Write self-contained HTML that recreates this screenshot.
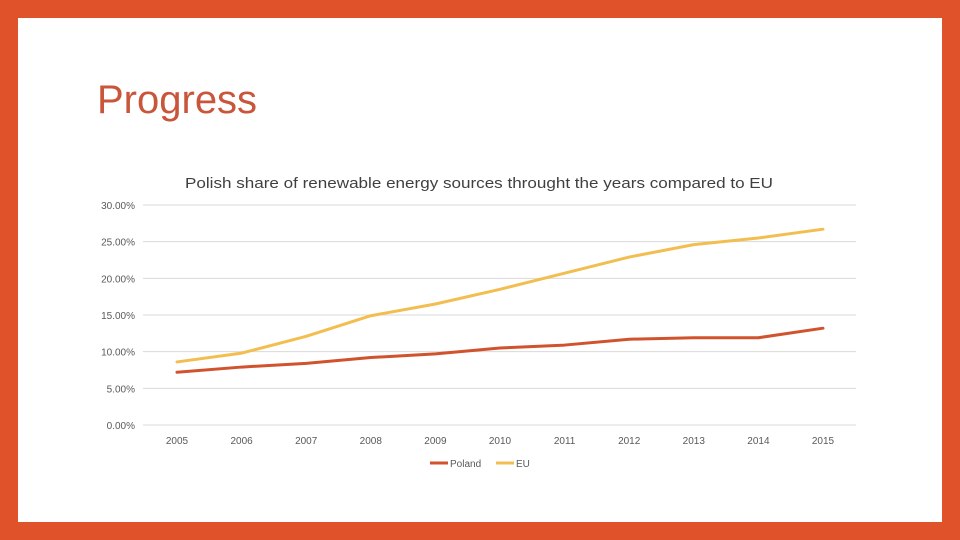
<!DOCTYPE html>
<html><head><meta charset="utf-8"><style>
body{margin:0;width:960px;height:540px;background:#E0522A;position:relative;overflow:hidden;font-family:"Liberation Sans",sans-serif}
#card{position:absolute;left:18px;top:18px;width:924px;height:504px;background:#fff}
#title{position:absolute;left:97px;top:78px;font-size:40px;color:#C9553A;margin:0;font-weight:normal}
svg{position:absolute;left:0;top:0}
</style></head><body>
<div id="card"></div>
<h1 id="title">Progress</h1>
<svg id="chart" width="960" height="540"></svg>
<script>
const years=["2005","2006","2007","2008","2009","2010","2011","2012","2013","2014","2015"];
const poland=[7.2,7.9,8.4,9.2,9.7,10.5,10.9,11.7,11.9,11.9,13.2];
const eu=[8.6,9.8,12.1,14.9,16.5,18.5,20.7,22.9,24.6,25.5,26.7];
const yTicks=[0,5,10,15,20,25,30];
const NS="http://www.w3.org/2000/svg";
const svg=document.getElementById('chart');
const x=i=>177+i*(823-177)/(years.length-1);
const y=v=>425-v*(220/30);
function mk(t,a,txt){const e=document.createElementNS(NS,t);for(const k in a)e.setAttribute(k,a[k]);if(txt!=null)e.textContent=txt;svg.appendChild(e);return e;}
let t=mk('text',{x:479,y:188,'text-anchor':'middle','font-size':15,fill:'#404040',textLength:588,lengthAdjust:'spacingAndGlyphs'},'Polish share of renewable energy sources throught the years compared to EU');


yTicks.forEach(v=>{
 const g=mk('line',{x1:143,x2:856,y1:y(v),y2:y(v),stroke:'#d9d9d9','stroke-width':1});
 
 
 const l=mk('text',{x:135,y:y(v)+4,'text-anchor':'end','font-size':10,fill:'#595959'},v.toFixed(2)+'%');
 
 
});
years.forEach((yr,i)=>{
 const l=mk('text',{x:x(i),y:444,'text-anchor':'middle','font-size':10,fill:'#595959'},yr);
 
 
});
function series(d,c,n){
 const p=mk('polyline',{points:d.map((v,i)=>x(i)+','+y(v)).join(' '),fill:'none',stroke:c,'stroke-width':3,'stroke-linejoin':'round','stroke-linecap':'round'});
 
 
}
series(poland,'#D0532E','poland-line');
series(eu,'#F2BE50','eu-line');
[[430,'#D0532E','Poland','legend-poland'],[496,'#F2BE50','EU','legend-eu']].forEach(a=>{
 const l=mk('line',{x1:a[0],x2:a[0]+18,y1:463,y2:463,stroke:a[1],'stroke-width':3});
 
 
 const tx=mk('text',{x:a[0]+20,y:467,'font-size':10,fill:'#595959'},a[2]);
 
 
});
</script>
</body></html>
